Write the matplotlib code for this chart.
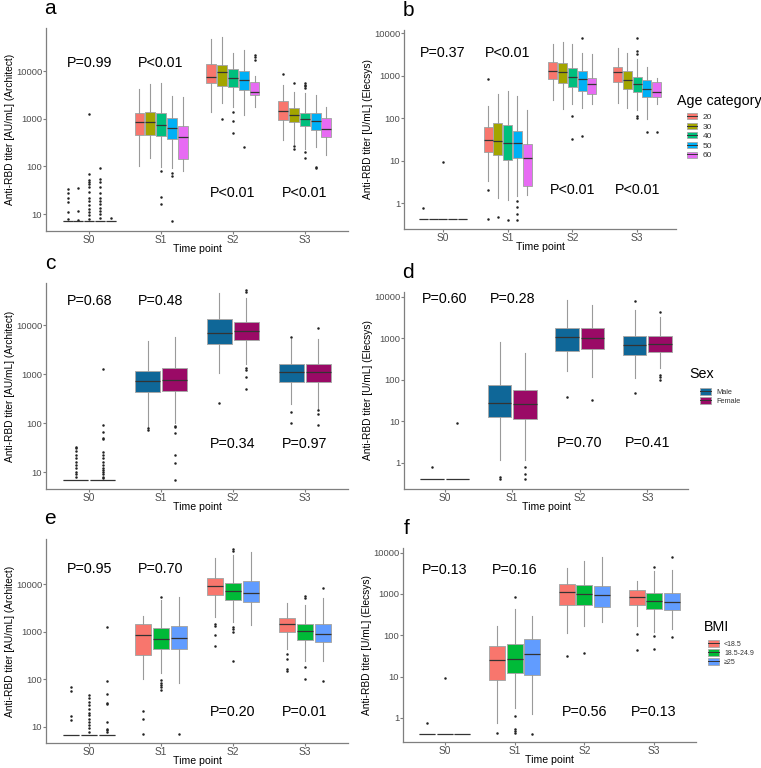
import matplotlib.pyplot as plt
from matplotlib.patches import Patch
from matplotlib.lines import Line2D
from matplotlib.legend_handler import HandlerTuple
from matplotlib.ticker import NullLocator

plt.rcParams['font.family'] = ['Liberation Sans', 'DejaVu Sans']

W, H = 761, 768

time_points = ['S0', 'S1', 'S2', 'S3']

age_groups = ['20', '30', '40', '50', '60']
age_colors = ['#F8766D', '#A3A500', '#00BF7D', '#00B0F6', '#E76BF3']
sex_groups = ['Male', 'Female']
sex_colors = ['#0F6798', '#9A0A66']
bmi_groups = ['<18.5', '18.5-24.9', '\u226525']
bmi_colors = ['#F8766D', '#00BA38', '#619CFF']

# box summaries per time point, per group: (lower whisker, q1, median, q3, upper whisker)
a_box = [
    [(7, 7, 7, 7, 7)] * 5,
    [(104, 457, 845, 1306, 4170), (148, 457, 845, 1375, 5400), (95, 440, 740, 1306, 5600),
     (91, 370, 640, 1020, 2930), (81, 141, 422, 686, 2790)],
    [(1350, 5590, 7470, 14000, 47700), (2100, 4900, 9500, 13300, 51000), (1800, 4600, 7130, 11000, 23900),
     (1200, 4040, 6480, 9800, 27200), (1750, 3170, 3670, 5860, 7950)],
    [(360, 946, 1460, 2300, 5200), (300, 860, 1210, 1670, 3560), (230, 686, 990, 1306, 3400),
     (250, 583, 886, 1306, 3160), (174, 422, 600, 1030, 1800)],
]
a_out = [
    [[34, 28, 22, 18, 11, 7.7], [35, 11.7, 7.5],
     [1250, 68, 52, 48, 42, 36, 29, 22, 19, 15.5, 13, 11.2, 9.5, 8],
     [94, 54, 46, 36, 27, 22, 19, 16, 13.6, 11.5, 9.8, 8.4], [8.4]],
    [[], [], [78, 23, 16], [72, 63, 7], []],
    [[], [1000], [1370, 900, 497], [250], [21700, 19700, 17400]],
    [[8500], [5600, 273, 232], [5500, 5100, 4800, 4500, 200, 150], [98, 92], []],
]
b_box = [
    [(0.42, 0.42, 0.42, 0.42, 0.42)] * 5,
    [(3.4, 16.3, 31, 63, 189), (1.3, 13.6, 28.6, 78, 375), (1.2, 10.4, 26, 70, 450),
     (1.44, 11.6, 25.7, 50, 330), (1.55, 2.57, 11.4, 24.8, 157)],
    [(266, 820, 1290, 2140, 5500), (163, 660, 1200, 1950, 6100), (222, 550, 915, 1490, 5500),
     (170, 445, 820, 1320, 3380), (222, 370, 635, 870, 3200)],
    [(230, 720, 1240, 1630, 4450), (170, 500, 790, 1320, 3500), (155, 420, 635, 915, 2430),
     (98, 320, 500, 790, 1630), (215, 310, 420, 720, 890)],
]
b_out = [
    [[0.78], [], [9.3], [], []],
    [[820, 2.07, 0.42], [0.46], [0.41], [1.13, 0.79, 0.55, 0.4], []],
    [[], [], [112, 32], [7900, 37.5], []],
    [[], [], [7800, 3900, 3300, 110, 100], [47], [47]],
]
c_box = [
    [(6.8, 6.8, 6.8, 6.8, 6.8)] * 2,
    [(83, 420, 725, 1160, 4700), (98, 445, 750, 1300, 5770)],
    [(1050, 4170, 6770, 13000, 46000), (1600, 4930, 7600, 11700, 36000)],
    [(250, 690, 1080, 1570, 5070), (190, 675, 1110, 1590, 5070)],
]
c_out = [
    [[33, 31, 27, 22, 19, 16, 14, 12, 10, 9, 8],
     [1250, 92, 66, 50, 47, 26, 22, 19, 16, 14, 12, 11, 10, 9, 8, 7.5]],
    [[78, 72], [88, 82, 62, 22, 15, 7]],
    [[258], [53000, 48000, 1330, 1200, 880, 490]],
    [[5600, 170, 100], [8800, 180, 155, 93]],
]
d_box = [
    [(0.415, 0.415, 0.415, 0.415, 0.415)] * 2,
    [(1.2, 13, 27, 77, 830), (1.2, 11.4, 26, 58, 440)],
    [(166, 505, 1050, 1800, 8300), (116, 555, 1000, 1740, 6500)],
    [(110, 400, 690, 1160, 4800), (190, 480, 730, 1160, 3300)],
]
d_out = [
    [[0.79], [9.3]],
    [[0.45, 0.42], [0.79, 0.55, 0.42]],
    [[38], [32]],
    [[8000, 48], [4200, 128, 115, 100]],
]
e_box = [
    [(6.9, 6.9, 6.9, 6.9, 6.9)] * 3,
    [(104, 325, 850, 1450, 2200), (136, 440, 725, 1200, 4800), (84, 430, 760, 1300, 5400)],
    [(2100, 6000, 9100, 13600, 35600), (1580, 4800, 7200, 10800, 41600), (1410, 4200, 6550, 11500, 49000)],
    [(430, 1000, 1500, 1950, 4000), (240, 665, 1050, 1450, 3600), (240, 615, 920, 1450, 5200)],
]
e_out = [
    [[68, 56, 17, 14], [47, 41, 34, 29, 24, 20, 18, 15, 13, 11, 9.3, 8],
     [1250, 91, 49, 32, 30, 13, 9.2, 8.5, 8]],
    [[22, 15, 7], [5500, 95, 85, 75, 68, 60], [7]],
    [[1500, 1350, 870, 500], [55000, 50000, 1250, 1150, 1000, 250], []],
    [[350, 275, 165, 150], [5600, 5200, 180, 100], [8500, 91]],
]
f_box = [
    [(0.415, 0.415, 0.415, 0.415, 0.415)] * 3,
    [(0.76, 8.2, 25, 56, 170), (1.7, 12.4, 26, 61, 440), (1.23, 11, 35, 82, 286)],
    [(113, 530, 1120, 1700, 4150), (165, 530, 1000, 1630, 6300), (215, 475, 950, 1590, 7800)],
    [(165, 530, 850, 1270, 2100), (123, 430, 690, 1060, 3560), (144, 400, 640, 1060, 3900)],
]
f_out = [
    [[0.76], [9], []],
    [[0.42], [830, 1.1, 0.53, 0.48, 0.42], [0.4]],
    [[31.6], [37], []],
    [[105, 44], [4500, 98, 46], [7800, 93]],
]

# P values: first two sit above S0/S1, last two below S2/S3
a_p = ['P=0.99', 'P<0.01', 'P<0.01', 'P<0.01']
b_p = ['P=0.37', 'P<0.01', 'P<0.01', 'P<0.01']
c_p = ['P=0.68', 'P=0.48', 'P=0.34', 'P=0.97']
d_p = ['P=0.60', 'P=0.28', 'P=0.70', 'P=0.41']
e_p = ['P=0.95', 'P=0.70', 'P=0.20', 'P=0.01']
f_p = ['P=0.13', 'P=0.16', 'P=0.56', 'P=0.13']

arch_ticks = [10, 100, 1000, 10000]
elec_ticks = [1, 10, 100, 1000, 10000]
arch_label = 'Anti-RBD titer [AU/mL] (Architect)'
elec_label = 'Anti-RBD titer [U/mL] (Elecsys)'

fig = plt.figure(figsize=(W / 100, H / 100), dpi=100)


def add_axes_px(left, top, right, bottom):
    return fig.add_axes([left / W, 1 - bottom / H, (right - left) / W, (bottom - top) / H])


def draw_panel(ax, box, out, colors, ylim, ticks, ylabel, pvals, p_hi, p_lo):
    n = len(colors)
    slot = 0.75 / n
    for g in range(n):
        stats = []
        for t in range(len(time_points)):
            lo, q1, med, q3, hi = box[t][g]
            stats.append(dict(whislo=lo, q1=q1, med=med, q3=q3, whishi=hi, fliers=out[t][g]))
        pos = [t + 1 - 0.375 + slot * (g + 0.5) for t in range(len(time_points))]
        ax.bxp(stats, positions=pos, widths=slot * 0.92, patch_artist=True,
               showcaps=False, manage_ticks=False,
               boxprops=dict(facecolor=colors[g], edgecolor='#a8a8a8', linewidth=0.7),
               whiskerprops=dict(color='#9a9a9a', linewidth=0.8),
               medianprops=dict(color='#333333', linewidth=0.9),
               flierprops=dict(marker='o', markersize=1.8, markerfacecolor='#222222',
                               markeredgecolor='none'))
    ax.set_yscale('log')
    ax.set_ylim(*ylim)
    ax.set_xlim(0.4, 4.6)
    ax.set_yticks(ticks)
    ax.set_yticklabels([str(v) for v in ticks])
    ax.yaxis.set_minor_locator(NullLocator())
    ax.set_xticks(range(1, 5))
    ax.set_xticklabels(time_points)
    for s in ['top', 'right']:
        ax.spines[s].set_visible(False)
    for s in ['left', 'bottom']:
        ax.spines[s].set_color('#7f7f7f')
        ax.spines[s].set_linewidth(0.9)
    ax.tick_params(axis='both', length=2, width=0.8, color='#7f7f7f', labelcolor='#4d4d4d')
    ax.tick_params(axis='y', labelsize=6.8, pad=0.8)
    ax.tick_params(axis='x', labelsize=7.3, pad=0.6)
    ax.set_xlabel('Time point', fontsize=7.6)
    ax.set_ylabel(ylabel, fontsize=7.3)
    bb = ax.get_position()
    ax.xaxis.set_label_coords(0.5, -13 / (bb.height * H))
    ax.yaxis.set_label_coords(-31 / (bb.width * W), 0.5)
    for k, txt in enumerate(pvals):
        ax.text(k + 1, p_hi if k < 2 else p_lo, txt, ha='center', va='center', fontsize=10.3)


def add_legend(title, groups, colors, tx, ty, kx, ky, fs, hl, hh, ls):
    fig.text(tx / W, 1 - ty / H, title, fontsize=10.3, ha='left', va='center')
    handles = [(Patch(facecolor=c, edgecolor='#a8a8a8', linewidth=0.6),
                Line2D([], [], color='#333333', linewidth=0.7)) for c in colors]
    leg = fig.legend(handles, groups, loc='upper left', bbox_to_anchor=(kx / W, 1 - ky / H),
                     frameon=False, fontsize=fs, handlelength=hl, handleheight=hh,
                     labelspacing=ls, handletextpad=0.7, borderpad=0, borderaxespad=0,
                     handler_map={tuple: HandlerTuple(ndivide=1)})
    for t in leg.get_texts():
        t.set_color('#333333')


panels = [
    ('a', (46, 28, 348, 231), a_box, a_out, age_colors, (4.4, 80000), arch_ticks, arch_label, a_p, 14800, 27),
    ('b', (404, 30, 676, 229), b_box, b_out, age_colors, (0.245, 12000), elec_ticks, elec_label, b_p, 3400, 2.06),
    ('c', (46, 283, 348, 489), c_box, c_out, sex_colors, (4.5, 72000), arch_ticks, arch_label, c_p, 31000, 38),
    ('d', (404, 292, 688, 489), d_box, d_out, sex_colors, (0.235, 13000), elec_ticks, elec_label, d_p, 9000, 3.0),
    ('e', (46, 539, 348, 743), e_box, e_out, bmi_colors, (4.6, 90000), arch_ticks, arch_label, e_p, 21500, 21),
    ('f', (403, 548, 696, 742), f_box, f_out, bmi_colors, (0.26, 13000), elec_ticks, elec_label, f_p, 3900, 1.4),
]

for letter, rect, box, out, colors, ylim, ticks, ylabel, pvals, p_hi, p_lo in panels:
    ax = add_axes_px(*rect)
    draw_panel(ax, box, out, colors, ylim, ticks, ylabel, pvals, p_hi, p_lo)
    fig.text((rect[0] + 4) / W, 1 - (rect[1] - 20) / H, letter, fontsize=15, ha='center', va='center')

add_legend('Age category', age_groups, age_colors, 677, 101, 687, 113, 6.0, 1.2, 0.75, 0.2)
add_legend('Sex', sex_groups, sex_colors, 689, 374, 700, 388, 5.3, 1.5, 1.0, 0.2)
add_legend('BMI', bmi_groups, bmi_colors, 704, 627, 708, 640, 5.0, 1.6, 1.1, 0.2)

fig.savefig('out.png', dpi=100)
